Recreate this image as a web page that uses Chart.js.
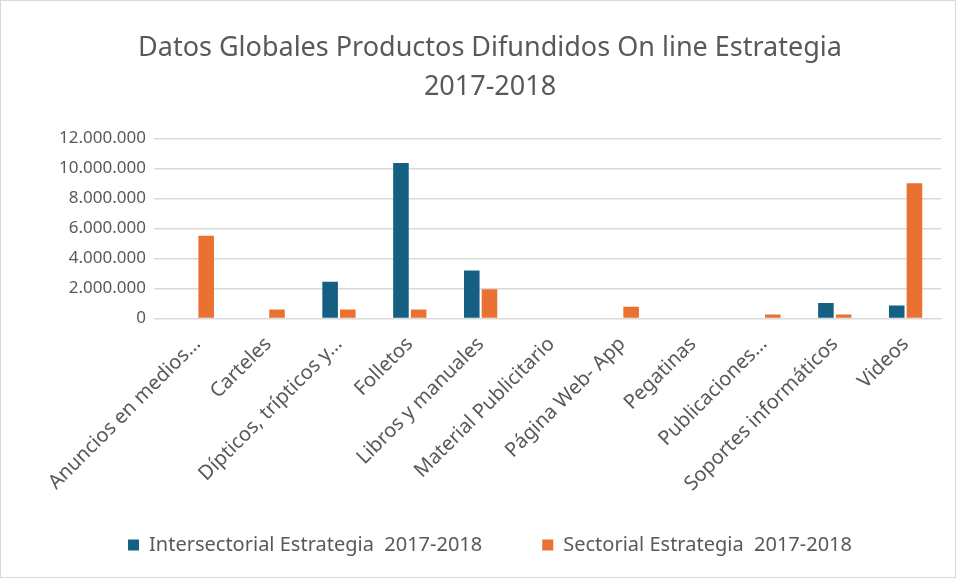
<!DOCTYPE html>
<html>
<head>
<meta charset="utf-8">
<script src="https://cdn.jsdelivr.net/npm/chart.js@4"></script>
<style>
  html, body { margin: 0; padding: 0; background: #fff; }
  #wrap { width: 954px; height: 576px; border: 1px solid #d9d9d9; }
</style>
</head>
<body>
<div id="wrap"><canvas id="chart"></canvas></div>
<script>
const categories = [
    "Anuncios en medios…", "Carteles", "Dípticos, trípticos y…", "Folletos",
    "Libros y manuales", "Material Publicitario", "Página Web- App", "Pegatinas",
    "Publicaciones…", "Soportes informáticos", "Videos"
];
const intersectorial = [0, 0, 2450000, 10350000, 3200000, 0, 0, 0, 0, 1030000, 860000];
const sectorial      = [5500000, 600000, 600000, 600000, 1940000, 0, 770000, 0, 260000, 260000, 9000000];
const yTicks = [0, 2000000, 4000000, 6000000, 8000000, 10000000, 12000000];

const grey = "#595959";
const fmt = v => String(v).replace(/\B(?=(\d{3})+(?!\d))/g, ".");

new Chart(document.getElementById("chart"), {
    type: "bar",
    data: {
        labels: categories,
        datasets: [
            { label: "Intersectorial Estrategia  2017-2018", data: intersectorial, backgroundColor: "#156082" },
            { label: "Sectorial Estrategia  2017-2018", data: sectorial, backgroundColor: "#E97132" },
        ],
    },
    options: {
        responsive: true,
        maintainAspectRatio: false,
        animation: false,
        layout: { padding: { left: 38, right: 14, top: 28, bottom: 12 } },
        datasets: { bar: { categoryPercentage: 0.5, barPercentage: 0.88 } },
        scales: {
            x: {
                grid: { display: false },
                border: { color: "#d9d9d9" },
                afterFit: s => { s.height += 13; },
                ticks: {
                    color: grey,
                    font: { family: "Noto Sans", size: 20 },
                    minRotation: 45, maxRotation: 45,
                    autoSkip: false,
                    padding: 6,
                },
            },
            y: {
                min: 0, max: 12000000,
                afterBuildTicks: axis => { axis.ticks = yTicks.map(v => ({ value: v })); },
                afterFit: s => { s.width += 12; },
                grid: { color: "#d9d9d9", lineWidth: 1.5 },
                border: { display: false },
                ticks: {
                    color: grey,
                    font: { family: "Noto Sans", size: 17 },
                    padding: 8,
                    callback: v => fmt(v),
                },
            },
        },
        plugins: {
            title: {
                display: true,
                text: ["Datos Globales Productos Difundidos On line Estrategia", "2017-2018"],
                color: grey,
                font: { family: "Noto Sans", size: 27, weight: "normal", lineHeight: 1.45 },
                padding: { top: 0, bottom: 31 },
            },
            legend: {
                position: "bottom",
                labels: {
                    color: grey,
                    font: { family: "Noto Sans", size: 20 },
                    boxWidth: 11, boxHeight: 11,
                    padding: 20,
                    generateLabels: chart => Chart.defaults.plugins.legend.labels.generateLabels(chart)
                        .map((item, i) => i === 0 ? { ...item, text: item.text + "\u2003\u2003" } : item),
                },
            },
            tooltip: { enabled: false },
        },
    },
});
</script>
</body>
</html>
